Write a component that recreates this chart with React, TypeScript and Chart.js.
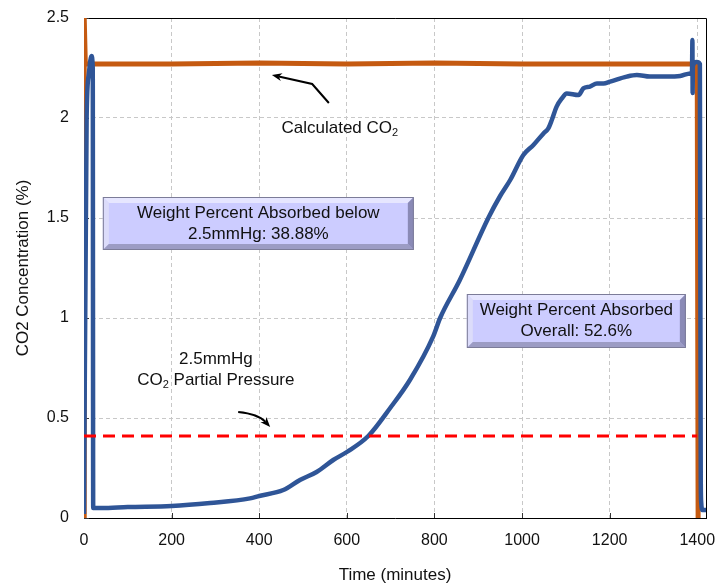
import React, { useEffect, useRef } from "react";
import { Chart, registerables } from "chart.js";

Chart.register(...registerables);

const FONT = '"Liberation Sans", Arial, Helvetica, sans-serif';

// Measured outlet CO2 concentration (time in minutes, CO2 in %)
const measuredTime = [
  0, 6, 11, 17, 20, 21, 40, 100, 200, 288, 379, 400, 455, 493, 531, 569, 600,
  649, 699, 744, 797, 813, 858, 923, 950, 973, 1003, 1026, 1049, 1060, 1068,
  1079, 1091, 1102, 1129, 1140, 1155, 1171, 1186, 1201, 1239, 1262, 1292, 1330,
  1361, 1384, 1388, 1389, 1389.5, 1390, 1399, 1406, 1408, 1409, 1412, 1420,
];
const measuredCO2 = [
  0.02, 2.0, 2.22, 2.31, 2.25, 0.05, 0.05, 0.055, 0.06, 0.075, 0.098, 0.11,
  0.14, 0.19, 0.23, 0.29, 0.33, 0.41, 0.55, 0.69, 0.907, 1.0, 1.19, 1.5, 1.61,
  1.69, 1.815, 1.865, 1.923, 1.948, 1.99, 2.057, 2.098, 2.123, 2.115, 2.148,
  2.157, 2.173, 2.173, 2.182, 2.207, 2.215, 2.207, 2.207, 2.21, 2.223, 2.23,
  2.39, 2.125, 2.26, 2.28, 2.27, 0.2, 0.08, 0.04, 0.04,
];

// Calculated CO2 feed level
const calcTime = [0, 0.5, 3, 200, 400, 600, 800, 1000, 1200, 1400, 1402];
const calcCO2 = [0, 2.5, 2.27, 2.27, 2.275, 2.27, 2.275, 2.27, 2.27, 2.27, 0];

// 2.5 mmHg CO2 partial-pressure threshold
const thresholdTime = [0, 1400];
const thresholdCO2 = [0.41, 0.41];

const xTicks = [0, 200, 400, 600, 800, 1000, 1200, 1400];
const yTicks = [0, 0.5, 1, 1.5, 2, 2.5];
const xRange = [0, 1420];
const yRange = [0, 2.5];

const belowText = ["Weight Percent Absorbed below", "2.5mmHg: 38.88%"];
const overallText = ["Weight Percent Absorbed", "Overall: 52.6%"];

// Annotation placement, in data units (minutes, %)
const notes = {
  belowBox: { x0: 43, x1: 753, y0: 1.605, y1: 1.34 },
  overallBox: { x0: 874, x1: 1374, y0: 1.12, y1: 0.85 },
  calcLabel: { x: 584, y: 1.95 },
  calcArrow: [
    [559, 2.075],
    [521, 2.17],
    [429, 2.215],
  ],
  pressureLabel1: { x: 301, y: 0.795 },
  pressureLabel2: { x: 301, y: 0.69 },
  pressureArrow: { from: [352, 0.53], ctrl: [398, 0.52], to: [425, 0.455] },
};

type Part = { t: string; sub?: boolean };

function drawParts(ctx: CanvasRenderingContext2D, parts: Part[], cx: number, cy: number, size: number) {
  const subSize = Math.round(size * 0.66);
  const widths = parts.map((p) => {
    ctx.font = `${p.sub ? subSize : size}px ${FONT}`;
    return ctx.measureText(p.t).width;
  });
  const total = widths.reduce((a, b) => a + b, 0);
  let x = cx - total / 2;
  ctx.textBaseline = "middle";
  ctx.textAlign = "left";
  parts.forEach((p, i) => {
    ctx.font = `${p.sub ? subSize : size}px ${FONT}`;
    ctx.fillText(p.t, x, p.sub ? cy + size * 0.32 : cy);
    x += widths[i];
  });
}

function poly(ctx: CanvasRenderingContext2D, pts: number[][], color: string) {
  ctx.beginPath();
  ctx.moveTo(pts[0][0], pts[0][1]);
  for (let i = 1; i < pts.length; i++) ctx.lineTo(pts[i][0], pts[i][1]);
  ctx.closePath();
  ctx.fillStyle = color;
  ctx.fill();
}

function bevelBox(ctx: CanvasRenderingContext2D, x0: number, y0: number, x1: number, y1: number, lines: string[]) {
  const b = 6;
  ctx.save();
  ctx.fillStyle = "#CCCCFF";
  ctx.fillRect(x0, y0, x1 - x0, y1 - y0);
  poly(ctx, [[x0, y0], [x1, y0], [x1 - b, y0 + b], [x0 + b, y0 + b]], "#E6E6FF");
  poly(ctx, [[x0, y0], [x0 + b, y0 + b], [x0 + b, y1 - b], [x0, y1]], "#DCDCFA");
  poly(ctx, [[x0, y1], [x0 + b, y1 - b], [x1 - b, y1 - b], [x1, y1]], "#9C9CC4");
  poly(ctx, [[x1, y0], [x1, y1], [x1 - b, y1 - b], [x1 - b, y0 + b]], "#8A8AB6");
  ctx.strokeStyle = "#7C7C98";
  ctx.lineWidth = 1;
  ctx.strokeRect(x0 + 0.5, y0 + 0.5, x1 - x0 - 1, y1 - y0 - 1);
  ctx.fillStyle = "#111";
  ctx.font = `17px ${FONT}`;
  ctx.textAlign = "center";
  ctx.textBaseline = "middle";
  const cx = (x0 + x1) / 2;
  const cy = (y0 + y1) / 2;
  const gap = 21;
  lines.forEach((l, i) => {
    ctx.fillText(l, cx, cy + (i - (lines.length - 1) / 2) * gap);
  });
  ctx.restore();
}

function arrowHead(ctx: CanvasRenderingContext2D, fx: number, fy: number, tx: number, ty: number) {
  const ang = Math.atan2(ty - fy, tx - fx);
  const len = 10;
  const half = 4;
  ctx.beginPath();
  ctx.moveTo(tx, ty);
  ctx.lineTo(tx - len * Math.cos(ang) + half * Math.sin(ang), ty - len * Math.sin(ang) - half * Math.cos(ang));
  ctx.lineTo(tx - len * 0.7 * Math.cos(ang), ty - len * 0.7 * Math.sin(ang));
  ctx.lineTo(tx - len * Math.cos(ang) - half * Math.sin(ang), ty - len * Math.sin(ang) + half * Math.cos(ang));
  ctx.closePath();
  ctx.fill();
}

const notesPlugin = {
  id: "notes",
  beforeDatasetsDraw(chart: any) {
    const { ctx, chartArea: a, scales } = chart;
    ctx.save();
    ctx.strokeStyle = "#000";
    ctx.lineWidth = 1;
    ctx.beginPath();
    ctx.moveTo(a.left, a.top + 0.5);
    ctx.lineTo(a.right + 0.5, a.top + 0.5);
    ctx.lineTo(a.right + 0.5, a.bottom);
    ctx.stroke();
    // short inward tick marks
    ctx.strokeStyle = "#333";
    xTicks.forEach((v) => {
      const px = Math.round(scales.x.getPixelForValue(v)) + 0.5;
      ctx.beginPath();
      ctx.moveTo(px, a.bottom);
      ctx.lineTo(px, a.bottom - 5);
      ctx.stroke();
    });
    yTicks.forEach((v) => {
      const py = Math.round(scales.y.getPixelForValue(v)) + 0.5;
      ctx.beginPath();
      ctx.moveTo(a.left, py);
      ctx.lineTo(a.left + 5, py);
      ctx.stroke();
    });
    ctx.restore();
  },
  afterDatasetsDraw(chart: any) {
    const { ctx, scales } = chart;
    const px = (v: number) => scales.x.getPixelForValue(v);
    const py = (v: number) => scales.y.getPixelForValue(v);
    const bb = notes.belowBox;
    bevelBox(ctx, px(bb.x0), py(bb.y0), px(bb.x1), py(bb.y1), belowText);
    const ob = notes.overallBox;
    bevelBox(ctx, px(ob.x0), py(ob.y0), px(ob.x1), py(ob.y1), overallText);

    ctx.save();
    ctx.fillStyle = "#111";
    drawParts(ctx, [{ t: "Calculated CO" }, { t: "2", sub: true }], px(notes.calcLabel.x), py(notes.calcLabel.y), 17);
    drawParts(ctx, [{ t: "2.5mmHg" }], px(notes.pressureLabel1.x), py(notes.pressureLabel1.y), 17);
    drawParts(
      ctx,
      [{ t: "CO" }, { t: "2", sub: true }, { t: " Partial Pressure" }],
      px(notes.pressureLabel2.x),
      py(notes.pressureLabel2.y),
      17
    );

    // arrow to the calculated line
    ctx.strokeStyle = "#000";
    ctx.fillStyle = "#000";
    ctx.lineWidth = 2;
    const pts = notes.calcArrow.map(([x, y]) => [px(x), py(y)]);
    ctx.beginPath();
    ctx.moveTo(pts[0][0], pts[0][1]);
    ctx.lineTo(pts[1][0], pts[1][1]);
    const n = pts.length - 1;
    const ang = Math.atan2(pts[n][1] - pts[n - 1][1], pts[n][0] - pts[n - 1][0]);
    ctx.lineTo(pts[n][0] - 7 * Math.cos(ang), pts[n][1] - 7 * Math.sin(ang));
    ctx.stroke();
    arrowHead(ctx, pts[n - 1][0], pts[n - 1][1], pts[n][0], pts[n][1]);

    // curved arrow to the threshold line
    const pa = notes.pressureArrow;
    const f = [px(pa.from[0]), py(pa.from[1])];
    const c = [px(pa.ctrl[0]), py(pa.ctrl[1])];
    const t = [px(pa.to[0]), py(pa.to[1])];
    const a2 = Math.atan2(t[1] - c[1], t[0] - c[0]);
    ctx.beginPath();
    ctx.moveTo(f[0], f[1]);
    ctx.quadraticCurveTo(c[0], c[1], t[0] - 7 * Math.cos(a2), t[1] - 7 * Math.sin(a2));
    ctx.stroke();
    arrowHead(ctx, c[0], c[1], t[0], t[1]);
    ctx.restore();
  },
};

const toPoints = (xs: number[], ys: number[]) => xs.map((x, i) => ({ x, y: ys[i] }));

export default function App() {
  const ref = useRef<HTMLCanvasElement | null>(null);

  useEffect(() => {
    if (!ref.current) return;
    const chart = new Chart(ref.current, {
      type: "line",
      data: {
        datasets: [
          {
            label: "2.5mmHg CO2 Partial Pressure",
            data: toPoints(thresholdTime, thresholdCO2),
            borderColor: "#FF0000",
            borderWidth: 3,
            borderDash: [12, 7],
            pointRadius: 0,
          },
          {
            label: "Measured CO2",
            data: toPoints(measuredTime, measuredCO2),
            borderColor: "#2F5597",
            borderWidth: 4.5,
            borderJoinStyle: "round",
            cubicInterpolationMode: "monotone",
            pointRadius: 0,
          },
          {
            label: "Calculated CO2",
            data: toPoints(calcTime, calcCO2),
            borderColor: "#C55A11",
            borderWidth: 5,
            borderJoinStyle: "round",
            pointRadius: 0,
          },
        ],
      },
      options: {
        responsive: false,
        animation: false,
        devicePixelRatio: 1,
        layout: { padding: { left: 0, right: 11, top: 18, bottom: 0 } },
        plugins: { legend: { display: false }, tooltip: { enabled: false } },
        elements: { line: { tension: 0 } },
        scales: {
          x: {
            type: "linear",
            min: xRange[0],
            max: xRange[1],
            afterBuildTicks: (s: any) => {
              s.ticks = xTicks.map((v) => ({ value: v }));
            },
            afterFit: (s: any) => {
              s.height = 68;
              s.paddingLeft = 0;
              s.paddingRight = 0;
            },
            grid: { color: "#C8C8C8", lineWidth: 1, drawTicks: false },
            border: { display: true, color: "#000", width: 1, dash: [4, 3] },
            ticks: {
              padding: 13,
              color: "#111",
              font: { family: FONT, size: 16 },
              maxRotation: 0,
              callback: (v: any) => String(v),
            },
            title: {
              display: true,
              text: "Time (minutes)",
              color: "#111",
              font: { family: FONT, size: 17 },
              padding: { top: 0, bottom: 0 },
            },
          },
          y: {
            type: "linear",
            min: yRange[0],
            max: yRange[1],
            afterBuildTicks: (s: any) => {
              s.ticks = yTicks.map((v) => ({ value: v }));
            },
            afterFit: (s: any) => {
              s.width = 84;
              s.paddingTop = 0;
              s.paddingBottom = 0;
            },
            grid: { color: "#C8C8C8", lineWidth: 1, drawTicks: false },
            border: { display: true, color: "#222", width: 1, dash: [4, 3] },
            ticks: {
              padding: 15,
              color: "#111",
              font: { family: FONT, size: 16 },
              callback: (v: any) => String(v),
            },
            title: {
              display: true,
              text: "CO2 Concentration (%)",
              color: "#111",
              font: { family: FONT, size: 17 },
              padding: { top: 13, bottom: 0 },
            },
          },
        },
      },
      plugins: [notesPlugin],
    });
    return () => chart.destroy();
  }, []);

  return (
    <div style={{ position: "fixed", left: 0, top: 0, width: 717, height: 586, background: "#fff" }}>
      <canvas ref={ref} width={717} height={586} style={{ width: 717, height: 586 }} />
    </div>
  );
}
